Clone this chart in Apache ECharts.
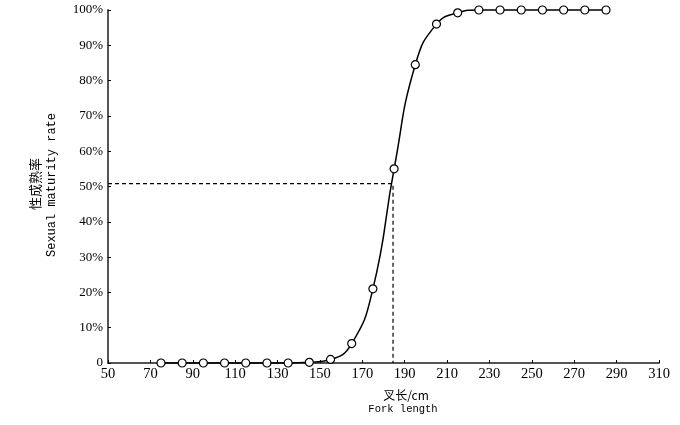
<!DOCTYPE html>
<html>
<head>
<meta charset="utf-8">
<script src="https://cdn.jsdelivr.net/npm/echarts@6/dist/echarts.min.js"></script>
<style>
  html, body { margin: 0; padding: 0; background: #fff; }
  #chart { width: 680px; height: 425px; }
</style>
</head>
<body>
<div id="chart"></div>
<script>
// fork length (cm) and sexual maturity rate (%)
const forkLength = [75, 85, 95, 105, 115, 125, 135, 145, 155, 165, 175, 185, 195, 205, 215, 225, 235, 245, 255, 265, 275, 285]
const maturityRate = [0, 0, 0, 0, 0, 0, 0, 0.2, 1, 5.5, 21, 55, 84.5, 96, 99.2, 100, 100, 100, 100, 100, 100, 100]
// L50 guide lines
const halfLength = 184.5
const halfRate = 50.8

const chart = echarts.init(document.getElementById('chart'))

chart.setOption({
  animation: false,
  grid: { left: 108, right: 21, top: 10, bottom: 62 },
  xAxis: {
    type: 'value',
    min: 50,
    max: 310,
    interval: 20,
    axisLine: { lineStyle: { color: '#555', width: 2 } },
    axisTick: { inside: true, length: 3, lineStyle: { color: '#000' } },
    axisLabel: { margin: 4, color: '#000', fontFamily: 'Liberation Serif', fontSize: 14.5 },
    splitLine: { show: false }
  },
  yAxis: {
    type: 'value',
    min: 0,
    max: 100,
    interval: 10,
    axisLine: { show: true, lineStyle: { color: '#555', width: 2 } },
    axisTick: { show: true, inside: true, length: 3, lineStyle: { color: '#000' } },
    axisLabel: {
      margin: 5,
      color: '#000',
      fontFamily: 'Liberation Serif',
      fontSize: 13,
      formatter: v => v === 0 ? '0' : v + '%'
    },
    splitLine: { show: false }
  },
  graphic: [
    {
      type: 'text', x: 35, y: 184, rotation: Math.PI / 2,
      style: { text: '性成熟率', font: '13px "Noto Sans CJK SC"', fill: '#000', align: 'center', verticalAlign: 'middle' }
    },
    {
      type: 'text', x: 52, y: 185, rotation: Math.PI / 2,
      style: { text: 'Sexual maturity rate', font: '12px "Liberation Mono"', fill: '#000', align: 'center', verticalAlign: 'middle' }
    },
    {
      type: 'text', x: 406, y: 395,
      style: { text: '叉长/cm', font: '12px "Noto Sans CJK SC"', fill: '#000', align: 'center', verticalAlign: 'middle' }
    },
    {
      type: 'text', x: 403, y: 409,
      style: { text: 'Fork length', font: '10.5px "Liberation Mono"', fill: '#000', align: 'center', verticalAlign: 'middle' }
    }
  ],
  series: [
    {
      type: 'line',
      data: [[50, halfRate], [halfLength, halfRate], [halfLength, 0]],
      symbol: 'none',
      lineStyle: { color: '#000', width: 1.2, type: [4, 3] },
      z: 1
    },
    {
      type: 'line',
      data: forkLength.map((x, i) => [x, maturityRate[i]]),
      smooth: 0.5,
      symbol: 'circle',
      symbolSize: 8,
      clip: false,
      itemStyle: { color: '#fff', borderColor: '#000', borderWidth: 1.2 },
      lineStyle: { color: '#000', width: 1.5 },
      z: 3
    }
  ]
})
</script>
</body>
</html>
